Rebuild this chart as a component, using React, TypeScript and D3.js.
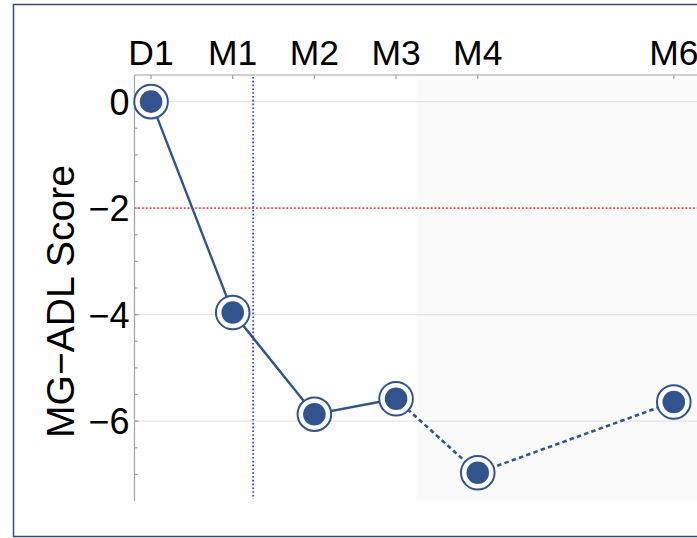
import React from "react";
import * as d3 from "d3";

const categories = ["D1", "M1", "M2", "M3", "M4", "M6"];
const weeks = [0, 4, 8, 12, 16, 25.6];
const scores = [0, -3.96, -5.87, -5.58, -6.97, -5.64];
const yMajorTicks = [0, -2, -4, -6];
const yMinorTicks = [-0.5, -1, -1.5, -2.5, -3, -3.5, -4.5, -5, -5.5, -6.5, -7];
const thresholdScore = -2;
const markerWeek = 5;
const shadeStartWeek = 13;
const solidUntilIndex = 3;

const W = 697;
const H = 538;
const BLUE = "#31548f";
const FONT = "'Liberation Sans', Arial, Helvetica, sans-serif";

export default function App() {
  const left = 134.5;
  const top = 75;
  const bottom = 501;
  const x = d3.scaleLinear().domain([-0.81, 28]).range([left, left + 28.81 * 20.42]);
  const y = d3.scaleLinear().domain([0.5, -7.5]).range([top, bottom]);
  const right = W + 40;

  const pts = weeks.map((w, i) => ({ w, s: scores[i] }));
  const line = d3
    .line<{ w: number; s: number }>()
    .x((d) => x(d.w))
    .y((d) => y(d.s));
  const solid = pts.slice(0, solidUntilIndex + 1);
  const dashed = pts.slice(solidUntilIndex);

  return (
    <svg
      width={W}
      height={H}
      style={{ position: "absolute", left: 0, top: 0, background: "#fff" }}
      fontFamily={FONT}
    >
      <rect x={0} y={0} width={W} height={H} fill="#fff" />
      <rect x={13.5} y={4.5} width={W + 40} height={532} fill="none" stroke="#3a4a6e" strokeWidth={1.5} />
      <rect x={x(shadeStartWeek)} y={top} width={right - x(shadeStartWeek)} height={bottom - top} fill="#fafafa" />
      {yMajorTicks.map((t) => (
        <line key={"g" + t} x1={left} x2={right} y1={y(t)} y2={y(t)} stroke="#e4e4e4" strokeWidth={1.3} />
      ))}
      <line x1={left} x2={right} y1={y(thresholdScore)} y2={y(thresholdScore)} stroke="#ff3b30" strokeWidth={1.8} strokeDasharray="1.6,2.2" />
      <line x1={x(markerWeek)} x2={x(markerWeek)} y1={top + 2} y2={bottom - 2} stroke="#3344ff" strokeWidth={1.8} strokeDasharray="1.6,2.2" />
      <line x1={left} x2={right} y1={top} y2={top} stroke="#a0a0a0" strokeWidth={1.2} />
      <line x1={left} x2={left} y1={top} y2={bottom} stroke="#a0a0a0" strokeWidth={1.2} />
      {weeks.map((w, i) => (
        <g key={"xt" + i}>
          <line x1={x(w)} x2={x(w)} y1={top} y2={top + 4} stroke="#a0a0a0" strokeWidth={1.2} />
          <text x={x(w)} y={64.5} textAnchor="middle" fontSize={35.5} fill="#000">
            {categories[i]}
          </text>
        </g>
      ))}
      {yMajorTicks.map((t) => (
        <g key={"yt" + t}>
          <line x1={left} x2={left + 4} y1={y(t)} y2={y(t)} stroke="#a0a0a0" strokeWidth={1.2} />
          <text x={129.5} y={y(t)} dy="0.36em" textAnchor="end" fontSize={36} fill="#000">
            {t < 0 ? "\u2212" + Math.abs(t) : String(t)}
          </text>
        </g>
      ))}
      {yMinorTicks.map((t) => (
        <line key={"ym" + t} x1={left} x2={left + 3} y1={y(t)} y2={y(t)} stroke="#a0a0a0" strokeWidth={1.2} />
      ))}
      <text
        transform={`translate(73.5, 301.5) rotate(-90)`}
        textAnchor="middle"
        fontSize={39}
        fill="#000"
      >
        MG{"\u2212"}ADL Score
      </text>
      <path d={line(solid) || ""} fill="none" stroke={BLUE} strokeWidth={2.4} />
      <path d={line(dashed) || ""} fill="none" stroke={BLUE} strokeWidth={2.6} strokeDasharray="4.5,3.2" />
      {pts.map((p, i) => (
        <g key={"p" + i}>
          <circle cx={x(p.w)} cy={y(p.s)} r={16.8} fill="#fff" stroke={BLUE} strokeWidth={2} />
          <circle cx={x(p.w)} cy={y(p.s)} r={11.3} fill={BLUE} />
        </g>
      ))}
    </svg>
  );
}
